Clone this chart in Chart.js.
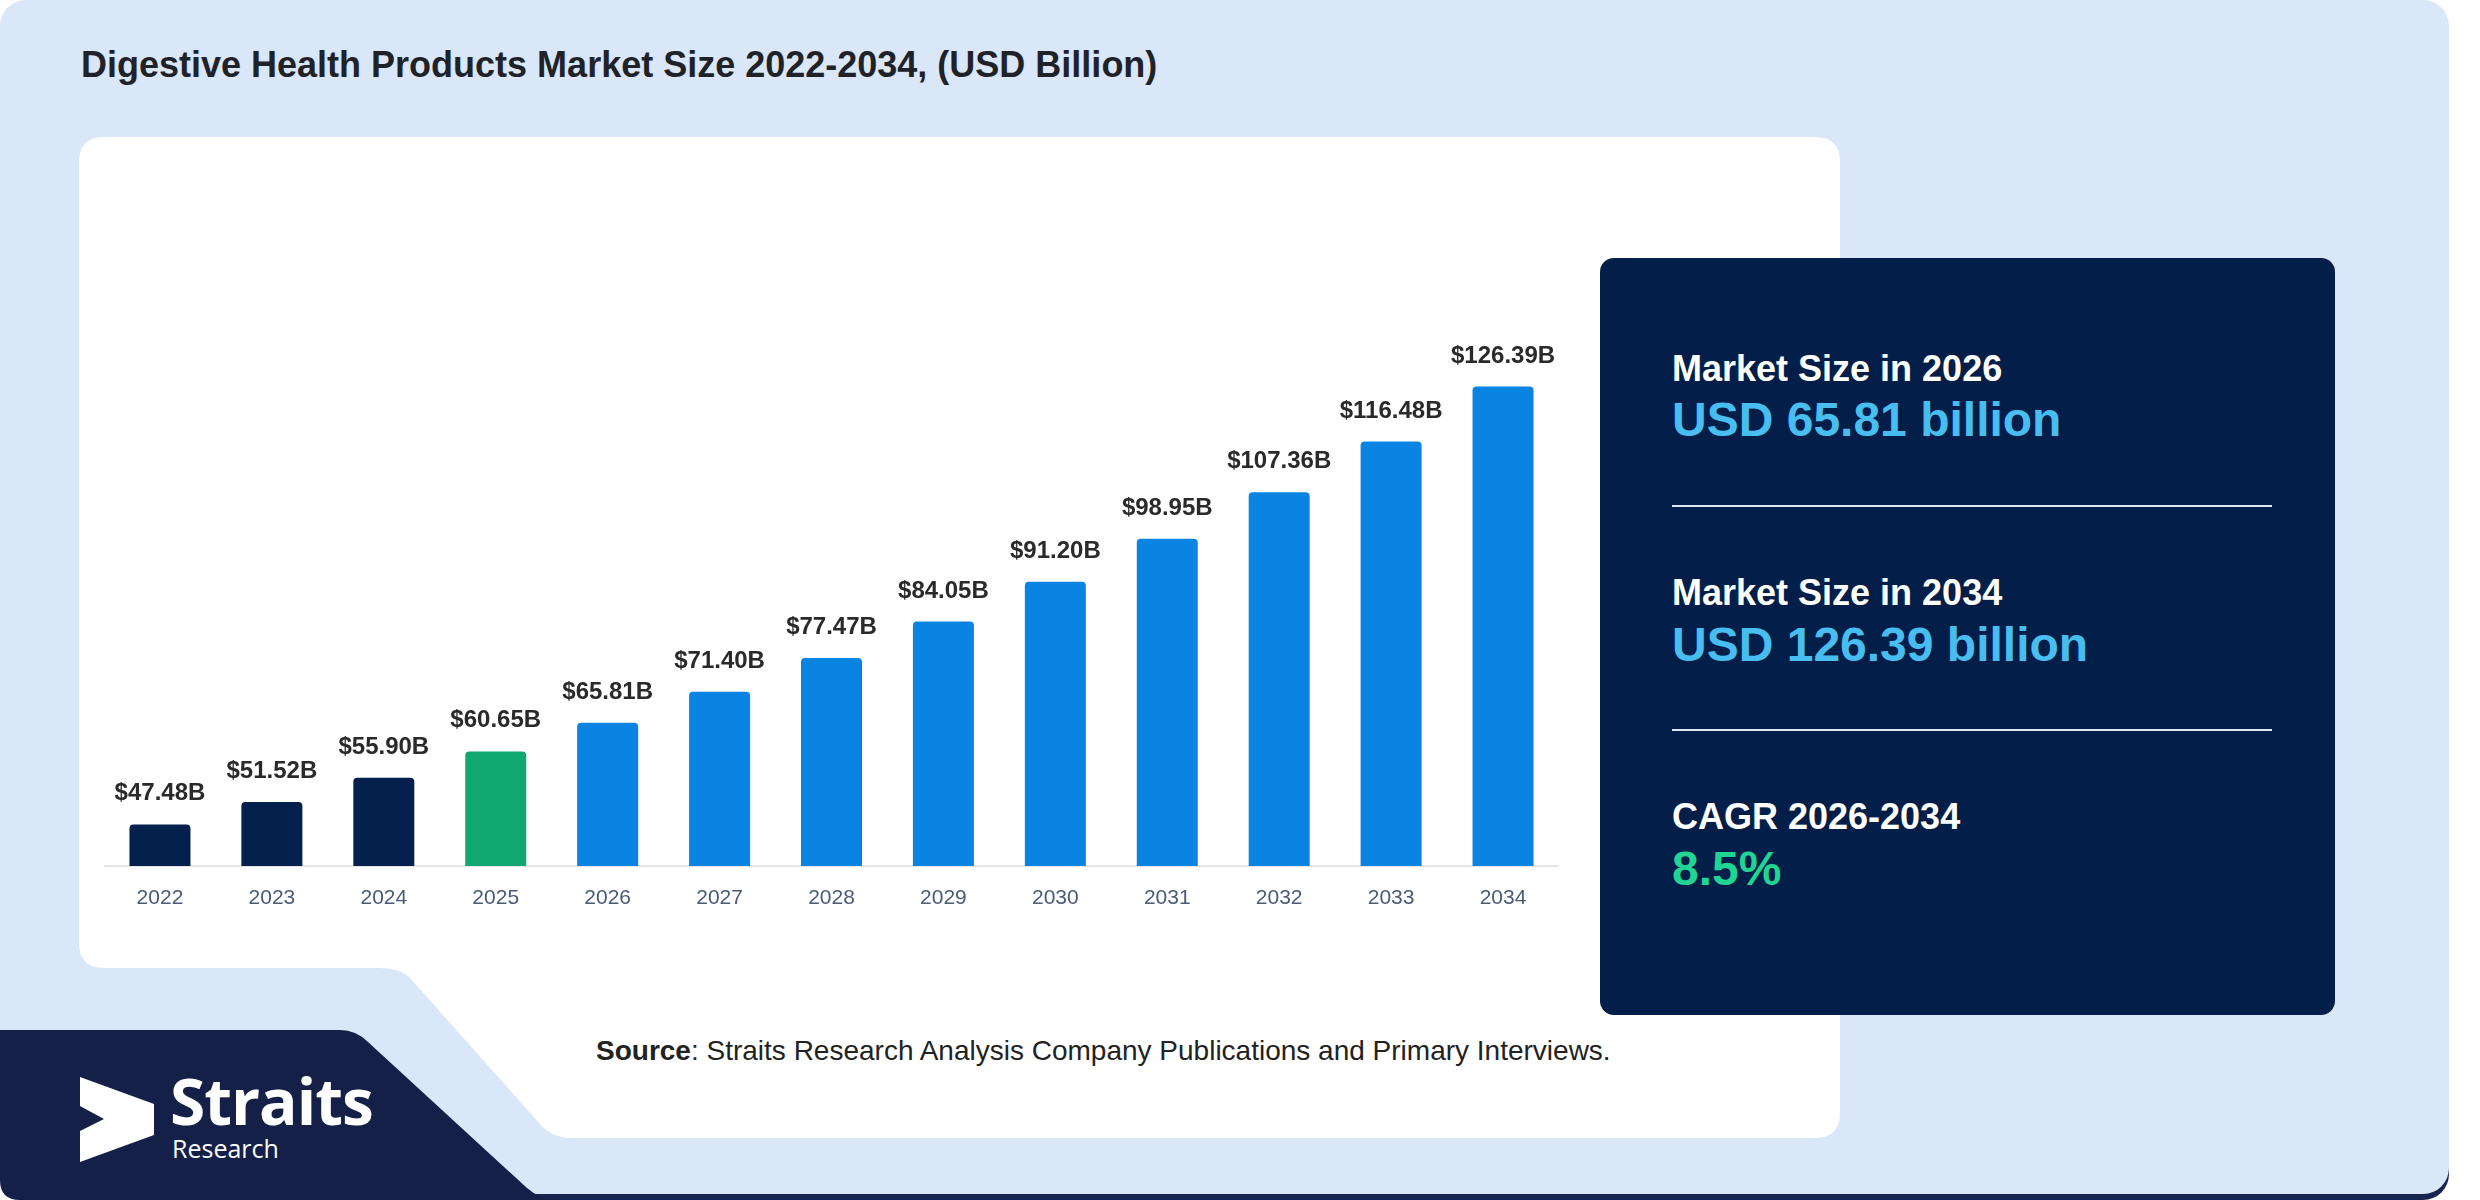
<!DOCTYPE html>
<html>
<head>
<meta charset="utf-8">
<script src="https://cdn.jsdelivr.net/npm/chart.js@4.4.1/dist/chart.umd.min.js"></script>
<style>
  html, body { margin:0; padding:0; background:#ffffff; }
  body { width:2480px; height:1200px; position:relative; overflow:hidden; font-family:"Liberation Sans", Arial, sans-serif; }
  #bg { position:absolute; left:0; top:0; width:2449px; height:1194px; background:#dae7f8; border-radius:26px; box-shadow:0 6px 0 #16244f; }
  #deco { position:absolute; left:0; top:0; }
  #title { position:absolute; left:81px; top:45px; font-size:36px; font-weight:bold; color:#1f2329; white-space:nowrap; line-height:40px; }
  #chartBox { position:absolute; left:104px; top:311px; width:1455px; height:602px; }
  #panel { position:absolute; left:1600px; top:258px; width:735px; height:757px; background:#031f49; border-radius:14px; }
  .lbl { position:absolute; left:72px; font-weight:bold; white-space:nowrap; }
  .k { font-size:36px; color:#ffffff; }
  .v { font-size:48px; }
  .hr { position:absolute; left:72px; width:600px; height:2px; background:#dfe7f2; }
  #source { position:absolute; left:596px; top:1035px; font-size:28px; color:#222; white-space:nowrap; }
  #logoText1 { position:absolute; left:170px; top:1065px; font-family:"Open Sans", "Noto Sans", sans-serif; font-weight:bold; font-size:64px; color:#fff; line-height:72px; letter-spacing:-1px; }
  #logoText2 { position:absolute; left:172px; top:1133px; font-family:"Open Sans", "Noto Sans", sans-serif; font-size:25px; color:#fff; line-height:30px; }
</style>
</head>
<body>
<div id="bg"></div>
<svg id="deco" width="2480" height="1200">
  <path d="M104 137 L1815 137 Q1840 137 1840 162 L1840 1113 Q1840 1138 1815 1138 L572 1138 Q552 1138 540 1124 L410 978 Q400 968 380 968 L104 968 Q79 968 79 943 L79 162 Q79 137 104 137 Z" fill="#ffffff"/>
  <path d="M0 1030 L340 1030 Q356 1030 368 1042 L527 1188 Q540 1200 560 1200 L20 1200 Q0 1200 0 1180 Z" fill="#142048"/>
  <path d="M80 1077 L154 1104 L154 1135 L80 1162 L80 1131 L104 1119 L80 1106 Z" fill="#ffffff"/>
</svg>
<div id="title">Digestive Health Products Market Size 2022-2034, (USD Billion)</div>
<div id="chartBox"><canvas id="c" width="1455" height="602"></canvas></div>
<div id="source"><b>Source</b>: Straits Research Analysis Company Publications and Primary Interviews.</div>
<div id="logoText1">Straits</div>
<div id="logoText2">Research</div>
<div id="panel">
  <div class="lbl k" style="top:90px;">Market Size in 2026</div>
  <div class="lbl v" style="top:134px; color:#48bdf0;">USD 65.81 billion</div>
  <div class="hr" style="top:247px;"></div>
  <div class="lbl k" style="top:314px;">Market Size in 2034</div>
  <div class="lbl v" style="top:359px; color:#48bdf0;">USD 126.39 billion</div>
  <div class="hr" style="top:471px;"></div>
  <div class="lbl k" style="top:538px;">CAGR 2026-2034</div>
  <div class="lbl v" style="top:583px; color:#22d493;">8.5%</div>
</div>
<script>
const years = ['2022','2023','2024','2025','2026','2027','2028','2029','2030','2031','2032','2033','2034'];
const marketSize = [47.48, 51.52, 55.90, 60.65, 65.81, 71.40, 77.47, 84.05, 91.20, 98.95, 107.36, 116.48, 126.39];
const baseYear = '2025';

const FONT = '"Liberation Sans", Arial, sans-serif';

function barColor(ctx) {
  const y = years[ctx.dataIndex];
  if (y < baseYear) return '#04204c';
  if (y === baseYear) return '#10a870';
  return '#0984e2';
}

const valueLabels = {
  id: 'valueLabels',
  afterDatasetsDraw(chart) {
    const ctx = chart.ctx;
    const meta = chart.getDatasetMeta(0);
    ctx.save();
    ctx.font = 'bold 24px ' + FONT;
    ctx.fillStyle = '#2a2a2a';
    ctx.textAlign = 'center';
    ctx.textBaseline = 'alphabetic';
    meta.data.forEach((bar, i) => {
      ctx.fillText('$' + marketSize[i].toFixed(2) + 'B', bar.x, bar.y - 24);
    });
    ctx.restore();
  }
};

new Chart(document.getElementById('c'), {
  type: 'bar',
  data: {
    labels: years,
    datasets: [{
      data: marketSize,
      backgroundColor: barColor,
      borderRadius: { topLeft: 4, topRight: 4 },
      borderSkipped: 'bottom',
      categoryPercentage: 1,
      barPercentage: 0.545
    }]
  },
  options: {
    responsive: false,
    animation: false,
    devicePixelRatio: 1,
    layout: { padding: 0 },
    plugins: { legend: { display: false }, tooltip: { enabled: false } },
    scales: {
      x: {
        offset: true,
        grid: { display: false, drawTicks: false, tickLength: 0 },
        border: { display: true, color: '#e3e5ea', width: 2 },
        ticks: { color: '#4b5a78', padding: 20, font: { family: FONT, size: 21 } },
        afterFit(scale) { scale.height = 47; }
      },
      y: { display: false, min: 40, max: 140 }
    }
  },
  plugins: [valueLabels]
});
</script>
</body>
</html>
